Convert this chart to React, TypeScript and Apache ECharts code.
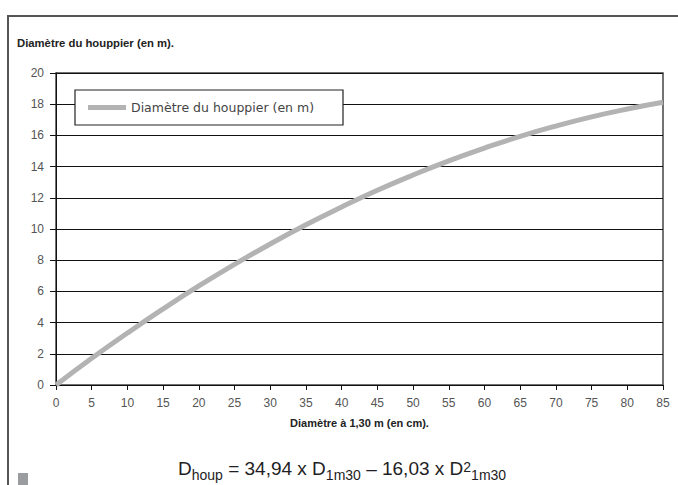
import React, { useEffect, useRef } from "react";
import * as echarts from "echarts";

const chartTitle = "Diamètre du houppier (en m).";
const xAxisTitle = "Diamètre à 1,30 m (en cm).";
const seriesName = "Diamètre du houppier (en m)";
const diameterCm = [0, 5, 10, 15, 20, 25, 30, 35, 40, 45, 50, 55, 60, 65, 70, 75, 80, 85];
const crownDiameterM = [0, 1.71, 3.33, 4.88, 6.35, 7.73, 9.04, 10.27, 11.41, 12.48, 13.46, 14.37, 15.19, 15.94, 16.6, 17.19, 17.69, 18.12];
const formulaText = "D{sub|houp} = 34,94 x D{sub|1m30} – 16,03 x D{sup|2}{sub|1m30}";

export default function App() {
  const ref = useRef<HTMLDivElement>(null);
  useEffect(() => {
    if (!ref.current) return;
    const chart = echarts.init(ref.current, null, { renderer: "svg" });
    const font = "'Liberation Sans', Arial, sans-serif";
    chart.setOption({
      animation: false,
      backgroundColor: "#ffffff",
      textStyle: { fontFamily: font },
      title: {
        text: chartTitle,
        left: 12,
        top: 32,
        textStyle: { fontSize: 11.3, fontWeight: "bold", color: "#222", fontFamily: font },
      },
      legend: {
        left: 75,
        top: 90,
        orient: "horizontal",
        backgroundColor: "#ffffff",
        borderColor: "#222",
        borderWidth: 1.2,
        borderRadius: 0,
        padding: [10, 17, 10, 13],
        icon: "rect",
        itemWidth: 38,
        itemHeight: 5,
        textStyle: { fontSize: 12.5, color: "#444", fontFamily: "'DejaVu Sans', sans-serif", width: 195, lineHeight: 15 },
        data: [{ name: seriesName, itemStyle: { color: "#b3b3b3" } }],
      },
      grid: {
        left: 56,
        right: 15,
        top: 73,
        bottom: 100,
        show: true,
        borderColor: "#444",
        borderWidth: 1.5,
        backgroundColor: "transparent",
      },
      xAxis: {
        type: "value",
        min: 0,
        max: 85,
        interval: 5,
        name: xAxisTitle,
        nameLocation: "middle",
        nameGap: 32,
        nameTextStyle: { fontSize: 11, fontWeight: "bold", color: "#222", fontFamily: font },
        axisLine: { show: true, lineStyle: { color: "#111", width: 1 } },
        axisTick: { show: true, length: 5, lineStyle: { color: "#111" } },
        axisLabel: { fontSize: 12, color: "#555", margin: 12 },
        splitLine: { show: false },
      },
      yAxis: {
        type: "value",
        min: 0,
        max: 20,
        interval: 2,
        axisLine: { show: true, lineStyle: { color: "#111", width: 1 } },
        axisTick: { show: true, length: 6, lineStyle: { color: "#111" } },
        axisLabel: { fontSize: 12, color: "#555", margin: 12 },
        splitLine: { show: true, lineStyle: { color: "#111", width: 1 } },
      },
      series: [
        {
          name: seriesName,
          type: "line",
          smooth: true,
          symbol: "none",
          data: diameterCm.map((x, i) => [x, crownDiameterM[i]]),
          lineStyle: { color: "#b3b3b3", width: 5 },
          itemStyle: { color: "#b3b3b3" },
          z: 3,
        },
      ],
      graphic: [
        {
          type: "rect",
          silent: true,
          shape: { x: 8, y: 16, width: 700, height: 520 },
          style: { fill: "none", stroke: "#555", lineWidth: 2 },
        },
        {
          type: "rect",
          silent: true,
          shape: { x: 18, y: 473, width: 10, height: 12 },
          style: { fill: "#9a9ca0" },
        },
        {
          type: "text",
          x: 178,
          y: 458,
          style: {
            text: formulaText,
            fill: "#1e1e24",
            fontSize: 19,
            fontFamily: font,
            verticalAlign: "top",
            align: "left",
            lineHeight: 21,
            rich: {
              sub: { fontSize: 14, fontFamily: font, fill: "#1e1e24", lineHeight: 15, verticalAlign: "top", padding: [10, 0, 0, 0] },
              sup: { fontSize: 14, fontFamily: font, fill: "#1e1e24", lineHeight: 15, verticalAlign: "top", padding: [2, 0, 0, 0] },
            },
          },
        },
      ],
    });
    return () => chart.dispose();
  }, []);
  return (
    <div
      ref={ref}
      style={{ position: "absolute", left: 0, top: 0, width: 678, height: 485 }}
    />
  );
}
